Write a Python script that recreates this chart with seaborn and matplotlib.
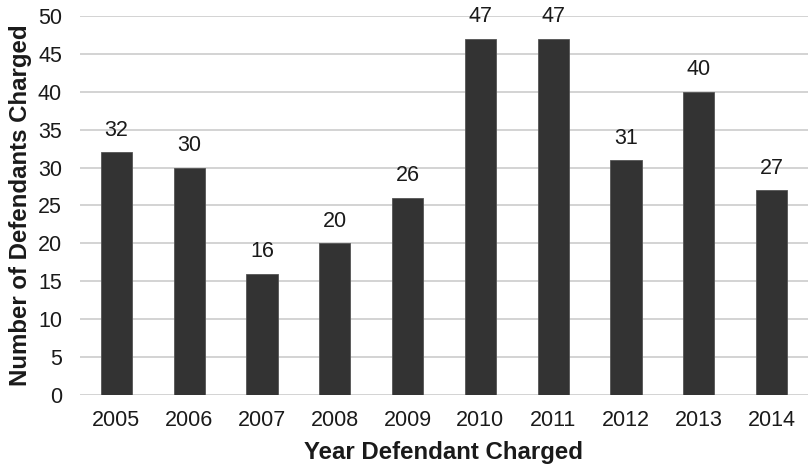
import matplotlib
matplotlib.use("Agg")
import matplotlib.pyplot as plt
import seaborn as sns
import pandas as pd

years = ["2005", "2006", "2007", "2008", "2009", "2010", "2011", "2012", "2013", "2014"]
defendants = [32, 30, 16, 20, 26, 47, 47, 31, 40, 27]
y_ticks = [0, 5, 10, 15, 20, 25, 30, 35, 40, 45, 50]

sns.set_theme(style="white")
plt.rcParams["font.family"] = ["Liberation Sans", "DejaVu Sans"]

df = pd.DataFrame({"year": years, "count": defendants})

fig = plt.figure(figsize=(8.08, 4.69), dpi=100)
ax = fig.add_axes([0.099, 0.158, 0.901, 0.808])

sns.barplot(data=df, x="year", y="count", color="#333333", width=0.43,
            saturation=1, edgecolor="#555555", linewidth=0.6, ax=ax, zorder=3)

ax.set_ylim(0, 50)
ax.set_xlim(-0.5, 9.5)
ax.set_yticks(y_ticks)
ax.yaxis.grid(True, color="#c8c8c8", linewidth=1.1, zorder=0)
ax.set_axisbelow(True)
for s in ax.spines.values():
    s.set_visible(False)
ax.tick_params(axis="both", length=0, labelsize=15.5, colors="#1a1a1a")
ax.tick_params(axis="x", pad=11)
ax.tick_params(axis="y", pad=13)

for i, v in enumerate(defendants):
    ax.text(i, v + 1.5, str(v), ha="center", va="bottom", fontsize=15.5, color="#1a1a1a")

ax.set_xlabel("Year Defendant Charged", fontsize=17.3, fontweight="bold", color="#1a1a1a", labelpad=7)
ax.set_ylabel("Number of Defendants Charged", fontsize=17.3, fontweight="bold", color="#1a1a1a", labelpad=4)

fig.savefig("out.png", dpi=100)
